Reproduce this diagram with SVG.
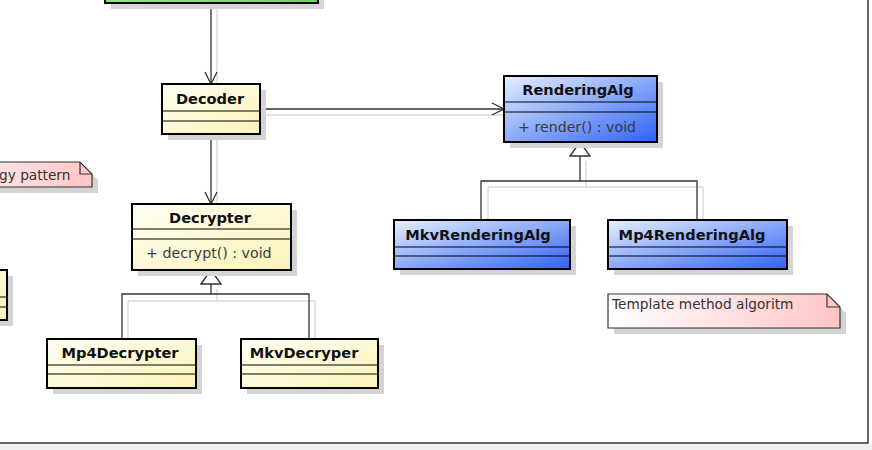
<svg xmlns="http://www.w3.org/2000/svg" width="872" height="450" viewBox="0 0 872 450">
<style>
.box{stroke:#000;stroke-width:2}
.sep{stroke:#000;stroke-width:1}
.shadow{fill:#d4d4d4}
.y{fill:url(#gy)}
.b{fill:url(#gb)}
.g{fill:url(#gg)}
.n{fill:url(#gn);stroke:#333;stroke-width:1.2}
.name{font-family:"DejaVu Sans",Verdana,sans-serif;font-size:14.6px;font-weight:bold;fill:#111;text-anchor:middle}
.mem{font-family:"DejaVu Sans",Verdana,sans-serif;font-size:14.2px;fill:#3a3a3a}
.note{font-family:"DejaVu Sans",Verdana,sans-serif;font-size:13.7px;fill:#333}
.conn{fill:none;stroke:#333;stroke-width:1.3}
.cshadow{fill:none;stroke:#d8d8d8;stroke-width:1.3}
</style>
<defs>
<linearGradient id="gy" x1="0" y1="0" x2="1" y2="1"><stop offset="0" stop-color="#fffff4"/><stop offset="1" stop-color="#fcf3b8"/></linearGradient>
<linearGradient id="gb" x1="0" y1="0" x2="1" y2="1"><stop offset="0" stop-color="#e6f0ff"/><stop offset="1" stop-color="#2f62f5"/></linearGradient>
<linearGradient id="gg" x1="0" y1="0" x2="1" y2="1"><stop offset="0" stop-color="#b8f0a8"/><stop offset="1" stop-color="#70d060"/></linearGradient>
<linearGradient id="gn" x1="0" y1="0" x2="1" y2="0"><stop offset="0" stop-color="#ffffff"/><stop offset="1" stop-color="#ffc6c6"/></linearGradient>
<marker id="open" viewBox="0 0 14 14" refX="13" refY="7" markerWidth="14" markerHeight="14" markerUnits="userSpaceOnUse" orient="auto"><path d="M1,1 L13,7 L1,13" fill="none" stroke="#333" stroke-width="1.3"/></marker>
<marker id="tri" viewBox="0 0 16 22" refX="15" refY="11" markerWidth="16" markerHeight="22" markerUnits="userSpaceOnUse" orient="auto"><path d="M1,1 L15,11 L1,21 Z" fill="#fff" stroke="#333" stroke-width="1.3"/></marker>
</defs>
<rect x="0" y="0" width="872" height="450" fill="#fff"/>
<rect x="0" y="444" width="872" height="6" fill="#f0f0f0"/>
<path d="M0,443 H868 V-2" fill="none" stroke="#333" stroke-width="1.5"/>

<g id="connectors">
<path class="cshadow" d="M217,9 V90"/>
<path class="cshadow" d="M266,115 H510"/>
<path class="cshadow" d="M217,140 V210"/>
<path class="cshadow" d="M586,161 V187 M488,187 H703 M488,187 V226 M703,187 V226"/>
<path class="cshadow" d="M217,289 V301 M128,301 H315 M128,301 V345 M315,301 V345"/>
<path class="conn" d="M211,3 V84" marker-end="url(#open)"/>
<path class="conn" d="M260,109 H504" marker-end="url(#open)"/>
<path class="conn" d="M211,134 V204" marker-end="url(#open)"/>
<path class="conn" d="M481,220 V181 H697 V220 M580,181 V142" marker-end="url(#tri)"/>
<path class="conn" d="M122,339 V294 H309 V339 M211,294 V270" marker-end="url(#tri)"/>
</g>

<g id="top-class">
<rect class="shadow" x="111" y="-40" width="213" height="49"/>
<rect class="box g" x="105" y="-46" width="213" height="49"/>
</g>

<g id="left-class">
<rect class="shadow" x="-94" y="276" width="107" height="50"/>
<rect class="box y" x="-100" y="270" width="107" height="50"/>
<line class="sep" x1="-100" y1="297" x2="7" y2="297"/>
<line class="sep" x1="-100" y1="307" x2="7" y2="307"/>
</g>

<g id="strategy-note">
<path class="shadow" d="M-94,168 H86 L98,180 V193 H-94 Z"/>
<path class="n" d="M-100,162 H80 L92,174 V187 H-100 Z"/>
<path d="M80,162 V174 H92" fill="none" stroke="#333" stroke-width="1.2"/>
<text class="note" x="-1" y="180">gy pattern</text>
</g>

<g id="Decoder">
<rect class="shadow" x="168" y="90" width="98" height="50"/>
<rect class="box y" x="162" y="84" width="98" height="50"/>
<line class="sep" x1="162" y1="111" x2="260" y2="111"/>
<line class="sep" x1="162" y1="121" x2="260" y2="121"/>
<text class="name" x="210" y="104">Decoder</text>
</g>

<g id="RenderingAlg">
<rect class="shadow" x="510" y="82" width="153" height="66"/>
<rect class="box b" x="504" y="76" width="153" height="66"/>
<line class="sep" x1="504" y1="102" x2="657" y2="102"/>
<line class="sep" x1="504" y1="112" x2="657" y2="112"/>
<text class="name" x="578" y="95">RenderingAlg</text>
<text class="mem" x="518" y="132">+ render() : void</text>
</g>

<g id="Decrypter">
<rect class="shadow" x="138" y="210" width="159" height="66"/>
<rect class="box y" x="132" y="204" width="159" height="66"/>
<line class="sep" x1="132" y1="229" x2="291" y2="229"/>
<line class="sep" x1="132" y1="239" x2="291" y2="239"/>
<text class="name" x="210" y="223">Decrypter</text>
<text class="mem" x="146" y="258">+ decrypt() : void</text>
</g>

<g id="MkvRenderingAlg">
<rect class="shadow" x="400" y="226" width="176" height="49"/>
<rect class="box b" x="394" y="220" width="176" height="49"/>
<line class="sep" x1="394" y1="247" x2="570" y2="247"/>
<line class="sep" x1="394" y1="256" x2="570" y2="256"/>
<text class="name" x="478" y="240">MkvRenderingAlg</text>
</g>

<g id="Mp4RenderingAlg">
<rect class="shadow" x="614" y="226" width="179" height="49"/>
<rect class="box b" x="608" y="220" width="179" height="49"/>
<line class="sep" x1="608" y1="247" x2="787" y2="247"/>
<line class="sep" x1="608" y1="256" x2="787" y2="256"/>
<text class="name" x="692" y="240">Mp4RenderingAlg</text>
</g>

<g id="Mp4Decrypter">
<rect class="shadow" x="53" y="345" width="149" height="49"/>
<rect class="box y" x="47" y="339" width="149" height="49"/>
<line class="sep" x1="47" y1="365" x2="196" y2="365"/>
<line class="sep" x1="47" y1="374" x2="196" y2="374"/>
<text class="name" x="120" y="358">Mp4Decrypter</text>
</g>

<g id="MkvDecryper">
<rect class="shadow" x="247" y="345" width="137" height="49"/>
<rect class="box y" x="241" y="339" width="137" height="49"/>
<line class="sep" x1="241" y1="365" x2="378" y2="365"/>
<line class="sep" x1="241" y1="374" x2="378" y2="374"/>
<text class="name" x="304" y="358">MkvDecryper</text>
</g>

<g id="template-note">
<path class="shadow" d="M614,300 H833 L846,313 V334 H614 Z"/>
<path class="n" d="M608,294 H827 L840,307 V328 H608 Z"/>
<path d="M827,294 V307 H840" fill="none" stroke="#333" stroke-width="1.2"/>
<text class="note" x="612" y="309">Template method algoritm</text>
</g>
</svg>
